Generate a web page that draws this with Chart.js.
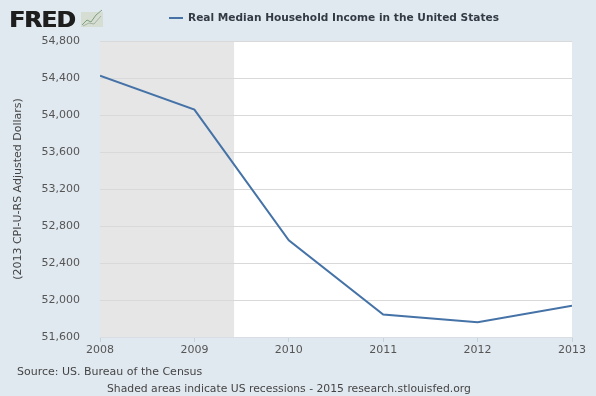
<!DOCTYPE html>
<html>
<head>
<meta charset="utf-8">
<script src="https://cdn.jsdelivr.net/npm/chart.js@4/dist/chart.umd.min.js"></script>
<style>
  html, body { margin: 0; padding: 0; background: #e1e9f0; }
  #wrap { width: 596px; height: 396px; position: relative; }
</style>
</head>
<body>
<div id="wrap"><canvas id="fredChart" width="596" height="396"></canvas></div>
<script>
// Data
const years = [2008, 2009, 2010, 2011, 2012, 2013];
const income = [54424, 54059, 52646, 51842, 51759, 51939];
const recessions = [[2008, 2009.42]];
const yTicks = { min: 51600, max: 54800, step: 400 };

const titleText = 'Real Median Household Income in the United States';
const yTitle = '(2013 CPI-U-RS Adjusted Dollars)';
const sourceText = 'Source: US. Bureau of the Census';
const noteText = 'Shaded areas indicate US recessions - 2015 research.stlouisfed.org';

const FONT = "'DejaVu Sans', Verdana, sans-serif";
const LINE = '#4572a7';

// plot background + recession bands, drawn behind the grid
const bandsPlugin = {
    id: 'bands',
    beforeDraw(chart) {
        const { ctx, chartArea, scales } = chart;
        ctx.save();
        ctx.fillStyle = '#ffffff';
        ctx.fillRect(chartArea.left, chartArea.top, chartArea.width, chartArea.height);
        ctx.fillStyle = '#e6e6e6';
        recessions.forEach(([a, b]) => {
            const x1 = scales.x.getPixelForValue(a);
            const x2 = scales.x.getPixelForValue(b);
            ctx.fillRect(x1, chartArea.top, x2 - x1, chartArea.height);
        });
        ctx.restore();
    }
};

// header (logo + legend title) and footer notes
const frameTextPlugin = {
    id: 'frameText',
    afterDraw(chart) {
        const ctx = chart.ctx;
        ctx.save();
        // FRED logo, tight and heavy
        ctx.save();
        ctx.translate(9, 26.5);
        ctx.scale(1.06, 1);
        ctx.fillStyle = '#1e1e1e';
        ctx.font = "bold 22px 'DejaVu Sans', sans-serif";
        ctx.letterSpacing = '-0.8px';
        ctx.textBaseline = 'alphabetic';
        ctx.fillText('FRED', 0, 0);
        ctx.fillText('FRED', 0.6, 0);
        ctx.restore();
        // little chart icon
        ctx.fillStyle = '#d6ded4';
        ctx.fillRect(81, 12, 22, 15);
        ctx.strokeStyle = '#7f9f7c';
        ctx.lineWidth = 1;
        ctx.beginPath();
        ctx.moveTo(82, 25); ctx.lineTo(87, 20); ctx.lineTo(91, 22); ctx.lineTo(96, 15); ctx.lineTo(102, 10);
        ctx.stroke();
        ctx.strokeStyle = '#a4b4a2';
        ctx.beginPath();
        ctx.moveTo(83, 26); ctx.lineTo(89, 23); ctx.lineTo(94, 24); ctx.lineTo(101, 16);
        ctx.stroke();

        // legend line + title
        ctx.strokeStyle = LINE;
        ctx.lineWidth = 2;
        ctx.beginPath();
        ctx.moveTo(169, 18);
        ctx.lineTo(183, 18);
        ctx.stroke();
        ctx.fillStyle = '#333a44';
        ctx.font = 'bold 10.6px ' + FONT;
        ctx.textBaseline = 'middle';
        ctx.fillText(titleText, 188, 18);

        // footer
        ctx.fillStyle = '#444';
        ctx.font = '11px ' + FONT;
        ctx.fillText(sourceText, 17, 372);
        ctx.font = '10.8px ' + FONT;
        ctx.fillText(noteText, 107, 389);
        ctx.restore();
    }
};

new Chart(document.getElementById('fredChart'), {
    type: 'line',
    data: {
        datasets: [{
            label: titleText,
            data: years.map((y, i) => ({ x: y, y: income[i] })),
            borderColor: LINE,
            borderWidth: 2,
            pointRadius: 0,
            tension: 0,
            fill: false
        }]
    },
    options: {
        responsive: false,
        animation: false,
        layout: { padding: { top: 41, right: 24, left: 0, bottom: 0 } },
        plugins: {
            legend: { display: false },
            tooltip: { enabled: false }
        },
        scales: {
            x: {
                type: 'linear',
                min: years[0],
                max: years[years.length - 1],
                afterFit: (scale) => { scale.height = 59; },
                ticks: {
                    stepSize: 1,
                    padding: 2,
                    color: '#555',
                    font: { family: FONT, size: 11 },
                    callback: (v) => String(v),
                    maxRotation: 0
                },
                grid: {
                    drawOnChartArea: false,
                    drawTicks: true,
                    tickLength: 5,
                    color: '#c8d2dc'
                },
                border: { display: true, color: '#d8dee4' }
            },
            y: {
                min: yTicks.min,
                max: yTicks.max,
                afterFit: (scale) => { scale.width = 100; },
                ticks: {
                    stepSize: yTicks.step,
                    padding: 20,
                    color: '#555',
                    font: { family: FONT, size: 11 },
                    callback: (v) => v.toLocaleString('en-US')
                },
                grid: {
                    drawTicks: false,
                    color: '#d9d9d9'
                },
                border: { display: false },
                title: {
                    display: true,
                    text: yTitle,
                    color: '#444',
                    font: { family: FONT, size: 11 },
                    padding: { top: 12, bottom: 0 }
                }
            }
        }
    },
    plugins: [bandsPlugin, frameTextPlugin]
});
</script>
</body>
</html>
